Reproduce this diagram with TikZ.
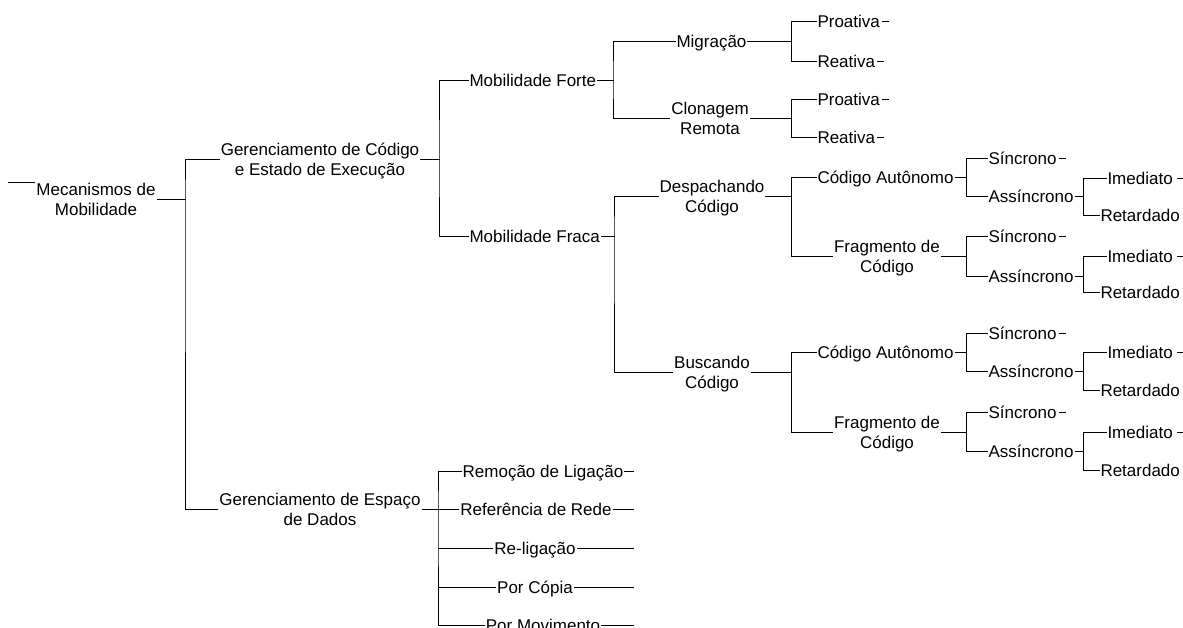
\documentclass[tikz,border=0pt]{standalone}
\usepackage{fontspec}
\setmainfont{Liberation Sans}
% strut: 16pt above and 4pt below the baseline, so a node's centre sits at cap mid-height
\newcommand\lnst{\rule[-4pt]{0pt}{20pt}}
\tikzset{
  lbl/.style={inner sep=0pt, outer ysep=0pt, outer xsep=1.5pt,
    font=\fontsize{17}{20}\selectfont, align=center},
  lbw/.style={lbl, anchor=west},
  wire/.style={line width=1pt, line cap=rect, line join=miter}
}
\begin{document}
\begin{tikzpicture}[x=1pt, y=-1pt]
\useasboundingbox (0,0) rectangle (1183,627);
\fill[white] (0,0) rectangle (1183,627);
\clip (0,0) rectangle (1183,627);

% ---- labels ----
\node[lbl] (root) at (96,199) {\lnst Mecanismos de\\\lnst Mobilidade};
\node[lbl] (ge) at (320,159) {\lnst Gerenciamento de Código\\\lnst e Estado de Execução};
\node[lbl] (gd) at (320,509) {\lnst Gerenciamento de Espaço\\\lnst de Dados};

\node[lbw] (mf)  at (468,80)  {\lnst Mobilidade Forte};
\node[lbw] (mfr) at (468,236) {\lnst Mobilidade Fraca};

\node[lbw] (mig) at (675,41) {\lnst Migração};
\node[lbl] (clo) at (710,118) {\lnst Clonagem\\\lnst Remota};
\node[lbw] (pro1) at (816,21)  {\lnst Proativa};
\node[lbw] (rea1) at (816,61)  {\lnst Reativa};
\node[lbw] (pro2) at (816,99)  {\lnst Proativa};
\node[lbw] (rea2) at (816,137) {\lnst Reativa};

\node[lbl] (dc) at (712,196) {\lnst Despachando\\\lnst Código};
\node[lbl] (bc) at (712,372) {\lnst Buscando\\\lnst Código};

\node[lbw] (ca1) at (816,177) {\lnst Código Autônomo};
\node[lbl] (fr1) at (887,256) {\lnst Fragmento de\\\lnst Código};
\node[lbw] (ca2) at (816,352) {\lnst Código Autônomo};
\node[lbl] (fr2) at (887,432) {\lnst Fragmento de\\\lnst Código};

\node[lbw] (s1) at (987,158) {\lnst Síncrono};
\node[lbw] (a1) at (987,196) {\lnst Assíncrono};
\node[lbw] (s2) at (987,236) {\lnst Síncrono};
\node[lbw] (a2) at (987,276) {\lnst Assíncrono};
\node[lbw] (s3) at (987,333) {\lnst Síncrono};
\node[lbw] (a3) at (987,371) {\lnst Assíncrono};
\node[lbw] (s4) at (987,412) {\lnst Síncrono};
\node[lbw] (a4) at (987,451) {\lnst Assíncrono};

\node[lbw] (i1) at (1106,178) {\lnst Imediato};
\node[lbw] (r1) at (1099,215) {\lnst Retardado};
\node[lbw] (i2) at (1106,256) {\lnst Imediato};
\node[lbw] (r2) at (1099,292) {\lnst Retardado};
\node[lbw] (i3) at (1106,352) {\lnst Imediato};
\node[lbw] (r3) at (1099,390) {\lnst Retardado};
\node[lbw] (i4) at (1106,432) {\lnst Imediato};
\node[lbw] (r4) at (1099,470) {\lnst Retardado};

\node[lbl] (d1) at (543,471) {\lnst Remoção de Ligação};
\node[lbl] (d2) at (536,509) {\lnst Referência de Rede};
\node[lbl] (d3) at (535,548) {\lnst Re-ligação};
\node[lbl] (d4) at (535,587) {\lnst Por Cópia};
\node[lbl] (d5) at (543,625) {\lnst Por Movimento};

% ---- junction points of the tree ----
\coordinate (rootin) at (8,182);
\coordinate (j0)  at (185,199);
\coordinate (j1)  at (439,159);
\coordinate (j2)  at (438,509);
\coordinate (j3)  at (613,80);
\coordinate (j4)  at (791,41);
\coordinate (j5)  at (791,118);
\coordinate (j6)  at (614,236);
\coordinate (j7)  at (791,196);
\coordinate (j8)  at (791,372);
\coordinate (j9)  at (966,177);
\coordinate (j10) at (966,256);
\coordinate (j11) at (966,352);
\coordinate (j12) at (966,432);
\coordinate (j13) at (1083,196);
\coordinate (j14) at (1083,276);
\coordinate (j15) at (1083,371);
\coordinate (j16) at (1083,451);
\coordinate (e1) at (633,471);
\coordinate (e2) at (633,509);
\coordinate (e3) at (633,548);
\coordinate (e4) at (633,587);
\coordinate (e5) at (633,625);

% ---- connectors ----
\begin{scope}[wire]
\draw (rootin) -- (rootin -| root.west);
\draw (root.east) -- (j0);
\draw (ge.west) -| (j0) |- (gd.west);

\draw (ge.east) -- (j1);
\draw (mf.west) -| (j1) |- (mfr.west);

\draw (gd.east) -- (j2);
\draw (d1.west) -| (j2) |- (d5.west);
\draw (j2) -- (d2.west);
\draw (j2 |- d3.west) -- (d3.west);
\draw (j2 |- d4.west) -- (d4.west);
\draw (d1.east) -- (e1);
\draw (d2.east) -- (e2);
\draw (d3.east) -- (e3);
\draw (d4.east) -- (e4);
\draw (d5.east) -- (e5);

\draw (mf.east) -- (j3);
\draw (mig.west) -| (j3) |- (clo.west);
\draw (mig.east) -- (j4);
\draw (pro1.west) -| (j4) |- (rea1.west);
\draw (clo.east) -- (j5);
\draw (pro2.west) -| (j5) |- (rea2.west);

\draw (mfr.east) -- (j6);
\draw (dc.west) -| (j6) |- (bc.west);
\draw (dc.east) -- (j7);
\draw (ca1.west) -| (j7) |- (fr1.west);
\draw (bc.east) -- (j8);
\draw (ca2.west) -| (j8) |- (fr2.west);

\draw (ca1.east) -- (j9);
\draw (s1.west) -| (j9) |- (a1.west);
\draw (fr1.east) -- (j10);
\draw (s2.west) -| (j10) |- (a2.west);
\draw (ca2.east) -- (j11);
\draw (s3.west) -| (j11) |- (a3.west);
\draw (fr2.east) -- (j12);
\draw (s4.west) -| (j12) |- (a4.west);

\draw (a1.east) -- (j13);
\draw (i1.west) -| (j13) |- (r1.west);
\draw (a2.east) -- (j14);
\draw (i2.west) -| (j14) |- (r2.west);
\draw (a3.east) -- (j15);
\draw (i3.west) -| (j15) |- (r3.west);
\draw (a4.east) -- (j16);
\draw (i4.west) -| (j16) |- (r4.west);

% short trailing ticks after leaf labels
\foreach \n in {pro1,rea1,pro2,rea2,s1,s2,s3,s4}
  \draw ([xshift=1pt]\n.east) -- ++(6,0);
\foreach \n in {i1,i2,i3,i4}
  \draw ([xshift=3pt]\n.east) -- ++(6,0);
\end{scope}
\end{tikzpicture}
\end{document}
